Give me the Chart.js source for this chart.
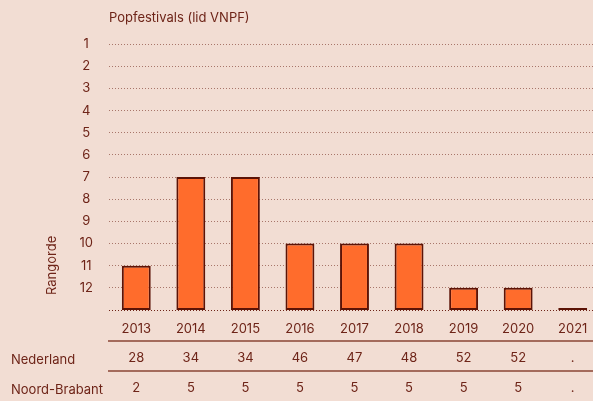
<!DOCTYPE html>
<html>
<head>
<meta charset="utf-8">
<script src="https://cdn.jsdelivr.net/npm/chart.js@4"></script>
<style>
  html, body { margin: 0; padding: 0; background: #f2ddd3; overflow: hidden; }
  #wrap { width: 600px; height: 401px; }
</style>
</head>
<body>
<div id="wrap"><canvas id="chart" width="600" height="401"></canvas></div>
<script>
const years = ["2013", "2014", "2015", "2016", "2017", "2018", "2019", "2020", "2021"];
const ranks = [11, 7, 7, 10, 10, 10, 12, 12, null];
const nederland = ["28", "34", "34", "46", "47", "48", "52", "52", "."];
const noordBrabant = ["2", "5", "5", "5", "5", "5", "5", "5", "."];
const rowLabels = ["Nederland", "Noord-Brabant"];
const rankTicks = [1, 2, 3, 4, 5, 6, 7, 8, 9, 10, 11, 12];

const BASE = 13;
const textColor = "#6e2418";
const fontFamily = "Inter, 'Open Sans', sans-serif";

const extras = {
  id: "extras",
  afterDraw(chart) {
    const ctx = chart.ctx;
    const x = chart.scales.x;
    const area = chart.chartArea;
    ctx.save();
    ctx.fillStyle = textColor;
    ctx.font = "13px " + fontFamily;
    ctx.textBaseline = "middle";

    // title
    ctx.textAlign = "left";
    ctx.fillText("Popfestivals (lid VNPF)", 109, 18);

    // y title
    ctx.save();
    ctx.translate(52, 295);
    ctx.rotate(-Math.PI / 2);
    ctx.textAlign = "left";
    ctx.fillText("Rangorde", 0, 0);
    ctx.restore();

    // table lines
    ctx.strokeStyle = "#8a4434";
    ctx.lineWidth = 1.5;
    [341, 371].forEach(y => {
      ctx.beginPath();
      ctx.moveTo(area.left - 1, y);
      ctx.lineTo(chart.width, y);
      ctx.stroke();
    });

    // table rows
    const rows = [nederland, noordBrabant];
    const rowY = [358, 388];
    rows.forEach((row, r) => {
      ctx.textAlign = "left";
      ctx.fillText(rowLabels[r], 11, rowY[r] + 2);
      ctx.textAlign = "center";
      row.forEach((v, i) => {
        ctx.fillText(v, x.getPixelForValue(i), rowY[r]);
      });
    });
    ctx.restore();
  }
};

new Chart(document.getElementById("chart"), {
  type: "bar",
  data: {
    labels: years,
    datasets: [{
      data: ranks.map(r => [BASE, r ?? BASE]),
      backgroundColor: "#ff6c2c",
      borderColor: "#5c1306",
      borderWidth: 2,
      borderSkipped: false,
      barPercentage: 0.53,
      categoryPercentage: 1,
      minBarLength: 2
    }]
  },
  options: {
    responsive: false,
    animation: false,
    layout: { padding: { top: 22, right: 0, left: 0, bottom: 0 } },
    plugins: {
      legend: { display: false },
      tooltip: { enabled: false }
    },
    scales: {
      x: {
        grid: { display: false, drawTicks: false },
        border: { display: false },
        ticks: { color: textColor, font: { family: fontFamily, size: 13 }, padding: 11 },
        afterFit(scale) { scale.height = 91; }
      },
      y: {
        reverse: true,
        min: 0,
        max: BASE,
        afterBuildTicks(scale) {
          scale.ticks = [0, ...rankTicks, BASE].map(v => ({ value: v }));
        },
        ticks: {
          color: textColor,
          font: { family: fontFamily, size: 13 },
          padding: 16,
          crossAlign: "center",
          callback: v => rankTicks.includes(v) ? String(v) : ""
        },
        grid: {
          drawTicks: false,
          lineWidth: 1,
          color: ctx => ctx.tick.value === 0 ? "rgba(0,0,0,0)" :
            (ctx.tick.value === BASE ? "#6e2418" : "#a8766a")
        },
        border: { display: false, dash: [1, 2] },
        afterFit(scale) {
          scale.width = 109;
          scale.paddingTop = 0;
          scale.paddingBottom = 0;
        }
      }
    }
  },
  plugins: [extras]
});
</script>
</body>
</html>
